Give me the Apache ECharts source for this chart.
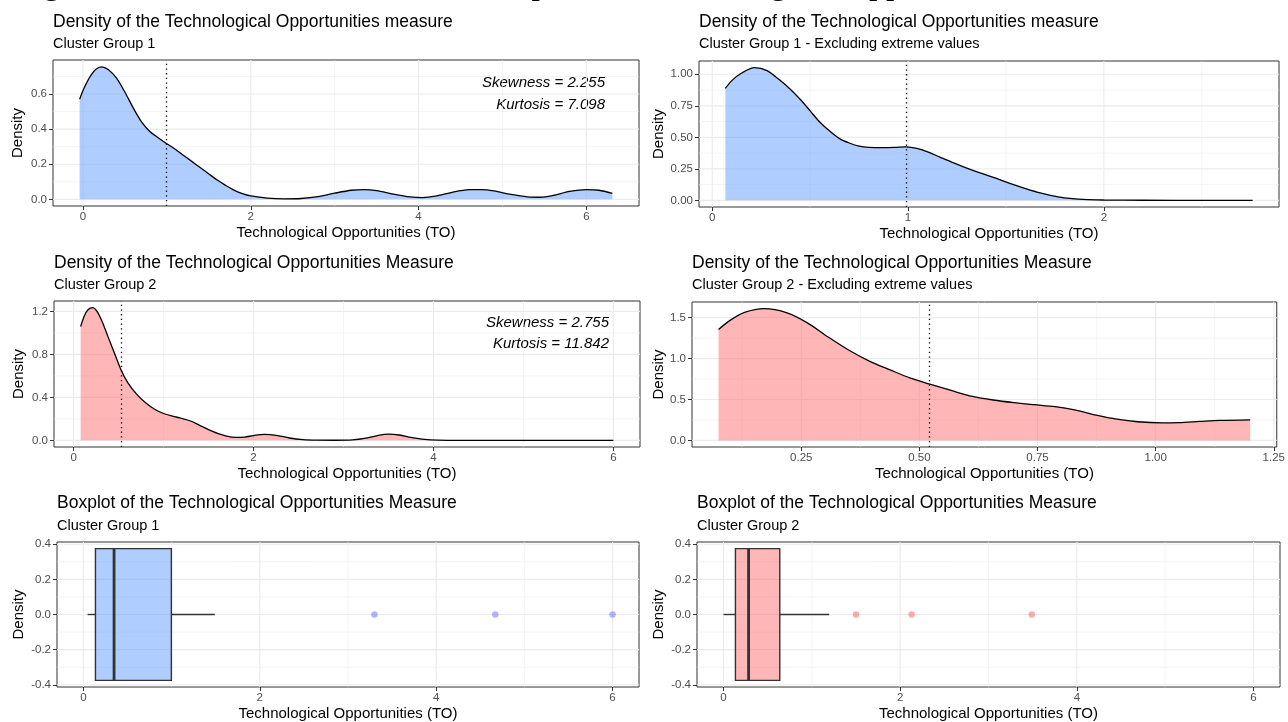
<!DOCTYPE html>
<html>
<head>
<meta charset="utf-8">
<title>Technological Opportunities by cluster group</title>
<script src="https://cdn.jsdelivr.net/npm/echarts@6.0.0/dist/echarts.min.js"></script>
<style>
  html, body { margin: 0; padding: 0; background: #fff; }
  #chart { width: 1288px; height: 722px; }
</style>
</head>
<body>
<div id="chart"></div>
<script>
// ---------- data ----------
// Cluster Group 1: kernel density of TO (full sample)
const dens1X = [-0.04,0.00,0.05,0.10,0.15,0.22,0.30,0.40,0.50,0.60,0.70,0.80,0.90,0.99,1.10,1.20,1.30,1.40,1.50,1.60,1.70,1.80,1.90,2.00,2.20,2.40,2.60,2.80,3.00,3.20,3.35,3.50,3.70,3.90,4.05,4.20,4.40,4.60,4.75,4.90,5.10,5.30,5.45,5.60,5.80,6.00,6.15,6.31];
const dens1Y = [0.570,0.620,0.670,0.710,0.740,0.755,0.740,0.690,0.610,0.520,0.440,0.385,0.350,0.320,0.285,0.250,0.215,0.180,0.145,0.110,0.080,0.053,0.033,0.020,0.007,0.003,0.005,0.015,0.035,0.052,0.056,0.050,0.030,0.014,0.010,0.018,0.040,0.055,0.056,0.048,0.028,0.014,0.012,0.022,0.045,0.056,0.052,0.034];
const mean1 = 0.99;
const skew1 = '2.255';
const kurt1 = '7.098';

// Cluster Group 1: excluding extreme values
const dens1TrimX = [0.067,0.10,0.15,0.215,0.28,0.34,0.40,0.45,0.50,0.55,0.60,0.65,0.70,0.75,0.80,0.87,0.93,0.99,1.05,1.10,1.16,1.22,1.29,1.36,1.44,1.52,1.60,1.68,1.76,1.84,1.92,2.00,2.20,2.50,2.76];
const dens1TrimY = [0.889,0.950,1.010,1.053,1.030,0.960,0.880,0.800,0.710,0.620,0.550,0.490,0.455,0.430,0.420,0.418,0.420,0.425,0.410,0.385,0.345,0.305,0.262,0.222,0.180,0.135,0.094,0.058,0.030,0.013,0.006,0.003,0.001,0.000,0.000];
const mean1Trim = 0.987;

// Cluster Group 2: kernel density of TO (full sample)
const dens2X = [0.078,0.12,0.16,0.21,0.26,0.32,0.38,0.45,0.525,0.60,0.70,0.80,0.90,1.00,1.10,1.20,1.30,1.40,1.50,1.60,1.70,1.80,1.90,2.00,2.12,2.25,2.40,2.55,2.70,2.90,3.10,3.25,3.38,3.50,3.62,3.75,3.90,4.05,4.30,5.00,6.00];
const dens2Y = [1.060,1.160,1.215,1.235,1.200,1.100,0.970,0.820,0.660,0.540,0.430,0.350,0.290,0.250,0.225,0.205,0.180,0.140,0.100,0.065,0.040,0.028,0.030,0.045,0.055,0.047,0.022,0.007,0.002,0.001,0.004,0.020,0.045,0.058,0.050,0.028,0.009,0.002,0.000,0.000,0.000];
const mean2 = 0.525;
const skew2 = '2.755';
const kurt2 = '11.842';

// Cluster Group 2: excluding extreme values
const dens2TrimX = [0.075,0.10,0.13,0.171,0.22,0.263,0.307,0.35,0.394,0.438,0.481,0.522,0.569,0.612,0.656,0.70,0.743,0.787,0.831,0.874,0.918,0.962,1.014,1.049,1.093,1.136,1.20];
const dens2TrimY = [1.356,1.470,1.565,1.611,1.560,1.437,1.263,1.105,0.970,0.862,0.761,0.688,0.607,0.538,0.494,0.462,0.437,0.413,0.370,0.310,0.260,0.228,0.215,0.218,0.232,0.245,0.252];
const mean2Trim = 0.522;

// Boxplot summaries: [lower whisker, Q1, median, Q3, upper whisker]
const box1 = [0.047, 0.136, 0.347, 0.997, 1.49];
const outliers1 = [3.30, 4.67, 6.00];
const box2 = [0.000, 0.135, 0.284, 0.637, 1.196];
const outliers2 = [1.50, 2.13, 3.49];

// Tick labels
const xTicksFull = ['0', '2', '4', '6'];
const xTicksTrim1 = ['0', '1', '2'];
const xTicksTrim2 = ['0.25', '0.50', '0.75', '1.00', '1.25'];
const yTicksDens1 = ['0.0', '0.2', '0.4', '0.6'];
const yTicksTrim1 = ['0.00', '0.25', '0.50', '0.75', '1.00'];
const yTicksDens2 = ['0.0', '0.4', '0.8', '1.2'];
const yTicksTrim2 = ['0.0', '0.5', '1.0', '1.5'];
const yTicksBox = ['-0.4', '-0.2', '0.0', '0.2', '0.4'];

// ---------- styling ----------
const SANS = '"Liberation Sans", Arial, Helvetica, sans-serif';
const SERIF = '"Liberation Serif", "Times New Roman", serif';
const BLUE_FILL = 'rgba(97,156,255,0.5)';
const RED_FILL = 'rgba(255,110,110,0.5)';
const BLUE_DOT = 'rgba(40,50,255,0.45)';
const RED_DOT = 'rgba(250,40,40,0.48)';
const GRID_COL = '#EBEBEB';
const INK = '#333333';
const BOX_HALF = 0.375;
const X_NAME = 'Technological Opportunities (TO)';

// One entry per facet: layout + which data it draws
const panels = [
  { box: {left: 53, top: 60, width: 586, height: 146}, xr: [-0.3575, 6.6275], yr: [-0.0378, 0.7938],
    xt: xTicksFull, yt: yTicksDens1, yGap: 28, ty: 22, sy: 44,
    title: 'Density of the Technological Opportunities measure', sub: 'Cluster Group 1',
    kind: 'density', x: dens1X, y: dens1Y, mean: mean1, fill: BLUE_FILL,
    stats: [skew1, kurt1], statX: 605, statY: [83, 104.5] },
  { box: {left: 699, top: 61, width: 580, height: 146}, xr: [-0.0677, 2.8947], yr: [-0.0527, 1.1057],
    xt: xTicksTrim1, yt: yTicksTrim1, yGap: 32.5, ty: 22, sy: 44,
    title: 'Density of the Technological Opportunities measure', sub: 'Cluster Group 1 - Excluding extreme values',
    kind: 'density', x: dens1TrimX, y: dens1TrimY, mean: mean1Trim, fill: BLUE_FILL },
  { box: {left: 54, top: 301, width: 586, height: 146}, xr: [-0.2181, 6.2961], yr: [-0.06175, 1.29675],
    xt: xTicksFull, yt: yTicksDens2, yGap: 28, ty: 263, sy: 285,
    title: 'Density of the Technological Opportunities Measure', sub: 'Cluster Group 2',
    kind: 'density', x: dens2X, y: dens2Y, mean: mean2, fill: RED_FILL,
    stats: [skew2, kurt2], statX: 609, statY: [322.5, 344] },
  { box: {left: 692, top: 302, width: 589, height: 145}, xr: [0.01875, 1.25625], yr: [-0.08055, 1.69155],
    xt: xTicksTrim2, yt: yTicksTrim2, yGap: 26, ty: 263, sy: 285,
    title: 'Density of the Technological Opportunities Measure', sub: 'Cluster Group 2 - Excluding extreme values',
    kind: 'density', x: dens2TrimX, y: dens2TrimY, mean: mean2Trim, fill: RED_FILL },
  { box: {left: 57, top: 542, width: 582, height: 145}, xr: [-0.3, 6.3], yr: [-0.4125, 0.4125],
    xt: xTicksFull, yt: yTicksBox, yGap: 31, ty: 503, sy: 526,
    title: 'Boxplot of the Technological Opportunities Measure', sub: 'Cluster Group 1',
    kind: 'box', stats5: box1, out: outliers1, fill: BLUE_FILL, dot: BLUE_DOT },
  { box: {left: 697, top: 542, width: 583, height: 145}, xr: [-0.3, 6.3], yr: [-0.4125, 0.4125],
    xt: xTicksFull, yt: yTicksBox, yGap: 30.7, ty: 503, sy: 526,
    title: 'Boxplot of the Technological Opportunities Measure', sub: 'Cluster Group 2',
    kind: 'box', stats5: box2, out: outliers2, fill: RED_FILL, dot: RED_DOT }
];

// minor grid positions: halfway between major breaks, inside the axis range
function minorBreaks(ticks, range) {
  const v = ticks.map(Number);
  const step = v[1] - v[0];
  const out = [];
  for (let t = v[0] - step / 2; t <= range[1] + 1e-9; t += step) {
    if (t >= range[0] - 1e-9) out.push(+t.toFixed(6));
  }
  return out;
}

function axisCfg(dim, i, range, ticks, name, gap) {
  const vals = ticks.map(Number);
  const lab = {};
  ticks.forEach(t => { lab[String(Number(t))] = t; });
  return {
    type: 'value', gridIndex: i, min: range[0], max: range[1],
    axisLine: {show: false, onZero: false},
    axisTick: {show: true, customValues: vals, length: 4, lineStyle: {color: INK, width: 1}},
    axisLabel: {customValues: vals, formatter: v => (lab[String(v)] !== undefined ? lab[String(v)] : String(v)),
                color: '#4D4D4D', fontSize: 11.5, fontFamily: SANS, margin: dim === 'x' ? 5 : 6},
    splitLine: {show: false},
    minorTick: {show: false},
    minorSplitLine: {show: false},
    name: name, nameLocation: 'middle', nameGap: gap,
    nameTextStyle: {color: '#000', fontSize: 15, fontFamily: SANS}
  };
}

function textEl(x, y, text, font, align) {
  return {
    type: 'text', x: x, y: y, silent: true,
    style: {text: text, font: font, fill: '#000', align: align, verticalAlign: 'middle',
            textAlign: align, textVerticalAlign: 'middle'}
  };
}

const grid = [], xAxis = [], yAxis = [], series = [];
const graphic = [
  // figure caption running off the top edge
  textEl(15, -15.3, 'Figure 4: Distribution in Cluster Group of the Technological Opportunities Measure',
         '34px ' + SERIF, 'left')
];

panels.forEach((p, i) => {
  grid.push(Object.assign({show: true, borderColor: INK, borderWidth: 1, backgroundColor: 'transparent'}, p.box));
  xAxis.push(axisCfg('x', i, p.xr, p.xt, X_NAME, 19));
  yAxis.push(axisCfg('y', i, p.yr, p.yt, 'Density', p.yGap));

  // panel grid lines (major + minor)
  const lines = [];
  p.xt.forEach(t => lines.push([0, Number(t), 0]));
  minorBreaks(p.xt, p.xr).forEach(v => lines.push([0, v, 1]));
  p.yt.forEach(t => lines.push([1, Number(t), 0]));
  minorBreaks(p.yt, p.yr).forEach(v => lines.push([1, v, 1]));
  series.push({
    type: 'custom', xAxisIndex: i, yAxisIndex: i, z: 1, silent: true, animation: false,
    data: lines,
    renderItem: (params, api) => {
      const cs = params.coordSys;
      const dir = api.value(0), v = api.value(1), minor = api.value(2);
      const lw = minor ? 0.55 : 1.1;
      if (dir === 0) {
        const x = api.coord([v, p.yr[0]])[0];
        return {type: 'line', shape: {x1: x, y1: cs.y, x2: x, y2: cs.y + cs.height},
                style: {stroke: GRID_COL, lineWidth: lw}};
      }
      const y = api.coord([p.xr[0], v])[1];
      return {type: 'line', shape: {x1: cs.x, y1: y, x2: cs.x + cs.width, y2: y},
              style: {stroke: GRID_COL, lineWidth: lw}};
    }
  });

  if (p.kind === 'density') {
    series.push({
      type: 'line', xAxisIndex: i, yAxisIndex: i, z: 2, silent: true, animation: false,
      data: p.x.map((x, k) => [x, p.y[k]]),
      smooth: 0.3, showSymbol: false, symbol: 'none',
      lineStyle: {color: '#000', width: 1.3},
      areaStyle: {color: p.fill, opacity: 1},
      markLine: {
        silent: true, animation: false, symbol: ['none', 'none'], label: {show: false},
        lineStyle: {color: '#000', width: 1.3, type: [1.3, 3.4]},
        emphasis: {disabled: true},
        data: [{xAxis: p.mean}]
      }
    });
    if (p.stats) {
      graphic.push(textEl(p.statX, p.statY[0], 'Skewness = ' + p.stats[0], 'italic 15px ' + SANS, 'right'));
      graphic.push(textEl(p.statX, p.statY[1], 'Kurtosis = ' + p.stats[1], 'italic 15px ' + SANS, 'right'));
    }
  } else {
    series.push({
      type: 'custom', xAxisIndex: i, yAxisIndex: i, z: 2, silent: true, animation: false,
      data: [p.stats5],
      renderItem: (params, api) => {
        const lo = api.value(0), q1 = api.value(1), med = api.value(2), q3 = api.value(3), hi = api.value(4);
        const a = api.coord([q1, BOX_HALF]);
        const b = api.coord([q3, -BOX_HALF]);
        const m1 = api.coord([med, BOX_HALF]);
        const m2 = api.coord([med, -BOX_HALF]);
        const w1 = api.coord([lo, 0]);
        const w2 = api.coord([hi, 0]);
        return {type: 'group', children: [
          {type: 'line', shape: {x1: w1[0], y1: w1[1], x2: a[0], y2: w1[1]}, style: {stroke: INK, lineWidth: 1.4}},
          {type: 'line', shape: {x1: b[0], y1: w1[1], x2: w2[0], y2: w1[1]}, style: {stroke: INK, lineWidth: 1.4}},
          {type: 'rect', shape: {x: a[0], y: a[1], width: b[0] - a[0], height: b[1] - a[1]},
           style: {fill: p.fill, stroke: INK, lineWidth: 1.4}},
          {type: 'line', shape: {x1: m1[0], y1: m1[1], x2: m2[0], y2: m2[1]}, style: {stroke: INK, lineWidth: 2.8}}
        ]};
      }
    });
    series.push({
      type: 'scatter', xAxisIndex: i, yAxisIndex: i, z: 3, silent: true, animation: false,
      data: p.out.map(v => [v, 0]),
      symbol: 'circle', symbolSize: 6.5,
      itemStyle: {color: p.dot}
    });
  }

  graphic.push(textEl(p.box.left, p.ty, p.title, '17.5px ' + SANS, 'left'));
  graphic.push(textEl(p.box.left, p.sy, p.sub, '14.5px ' + SANS, 'left'));
});

const chart = echarts.init(document.getElementById('chart'), null, {renderer: 'canvas', width: 1288, height: 722});
chart.setOption({
  animation: false,
  backgroundColor: '#fff',
  textStyle: {fontFamily: SANS},
  grid: grid,
  xAxis: xAxis,
  yAxis: yAxis,
  series: series,
  graphic: graphic
});
</script>
</body>
</html>
